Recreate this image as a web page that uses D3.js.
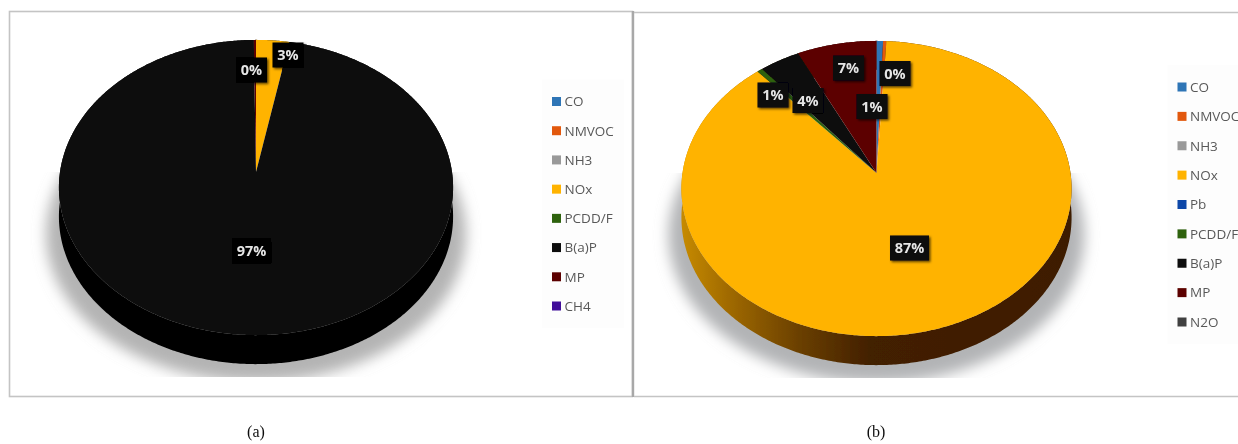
<!DOCTYPE html>
<html>
<head>
<meta charset="utf-8">
<script src="https://cdn.jsdelivr.net/npm/d3@7/dist/d3.min.js"></script>
<style>
  html, body { margin: 0; padding: 0; background: #fff; }
  svg { display: block; }
  .legend text { font-family: "Open Sans", sans-serif; font-size: 13.5px; fill: #595959; }
  .pct text { font-family: "Open Sans", sans-serif; font-size: 14.5px; font-weight: 700; fill: #e6e6e6; text-anchor: middle; }
  .caption { font-family: "Liberation Serif", serif; font-size: 16px; fill: #111; text-anchor: middle; }
</style>
</head>
<body>
<div id="chart"></div>
<script>
// panel (a)
const categoriesA = ['CO', 'NMVOC', 'NH3', 'NOx', 'PCDD/F', 'B(a)P', 'MP', 'CH4'];
const valuesA = [0, 0, 0, 3, 0, 96.8, 0.2, 0];
const labelsA = ['3%', '0%', '97%'];

// panel (b)
const categoriesB = ['CO', 'NMVOC', 'NH3', 'NOx', 'Pb', 'PCDD/F', 'B(a)P', 'MP', 'N2O'];
const valuesB = [0.6, 0.3, 0, 87.6, 0, 0.5, 3.7, 7.3, 0];
const labelsB = ['0%', '1%', '7%', '1%', '4%', '87%'];

const colors = {
  'CO': '#2e75b6',
  'NMVOC': '#e2590f',
  'NH3': '#999999',
  'NOx': '#ffb300',
  'Pb': '#0b47a8',
  'PCDD/F': '#2f6210',
  'B(a)P': '#0d0d0d',
  'MP': '#5c0500',
  'N2O': '#404040',
  'CH4': '#3f0f99',
};

const width = 1238;
const height = 444;

const svg = d3.select('#chart')
  .append('svg')
  .attr('width', width)
  .attr('height', height);

const defs = svg.append('defs');
defs.append('filter').attr('id', 'soft')
  .append('feGaussianBlur').attr('stdDeviation', 0.45);
defs.append('filter').attr('id', 'shadowBlur')
  .attr('x', '-10%').attr('y', '-10%').attr('width', '120%').attr('height', '120%')
  .append('feGaussianBlur').attr('stdDeviation', 7);
const boxShadow = defs.append('filter').attr('id', 'boxShadow')
  .attr('x', '-30%').attr('y', '-30%').attr('width', '160%').attr('height', '160%');
boxShadow.append('feDropShadow')
  .attr('dx', 1.5).attr('dy', 1.5).attr('stdDeviation', 1.2)
  .attr('flood-color', '#000').attr('flood-opacity', 0.65);

const wallGradient = defs.append('linearGradient').attr('id', 'wallB')
  .attr('gradientUnits', 'userSpaceOnUse')
  .attr('x1', 682).attr('x2', 1071).attr('y1', 0).attr('y2', 0);
[[0, '#c68a00'], [0.12, '#a06a00'], [0.3, '#6b4000'], [0.48, '#432000'], [1, '#3e1c00']]
  .forEach(s => wallGradient.append('stop').attr('offset', s[0]).attr('stop-color', s[1]));

const root = svg.append('g').attr('filter', 'url(#soft)');

// panel frames
const frames = root.append('g').attr('fill', 'none');
frames.append('rect').attr('x', 9.5).attr('y', 11.5).attr('width', 623).attr('height', 385)
  .attr('stroke', '#c4c4c4').attr('stroke-width', 1.6);
frames.append('line').attr('x1', 633).attr('x2', 633).attr('y1', 11).attr('y2', 397)
  .attr('stroke', '#a8a8a8').attr('stroke-width', 2.4);
frames.append('path').attr('d', 'M634,12.5H1238M634,396.5H1238')
  .attr('stroke', '#c4c4c4').attr('stroke-width', 1.6);

function drawPanel(p) {
  const g = root.append('g');
  const k = 0.105; // perspective of the tilted disc
  const ry = 146;

  // point on the tilted disc, r in 0..1, angle clockwise from 12 o'clock
  const project = (angle, r) => {
    const u = Math.sin(angle) * r;
    const v = -Math.cos(angle) * r;
    const w = 1 - k * v;
    return [p.cx + p.radius * u / w, p.cy + ry * v / w];
  };

  const sweep = (a0, a1) => {
    const n = Math.max(2, Math.ceil((a1 - a0) / 0.01));
    return d3.range(n + 1).map(i => a0 + (a1 - a0) * i / n);
  };

  const line = d3.line();

  // floor shadow, cut flat at the bottom
  const shadowClip = `shadowClip${p.id}`;
  defs.append('clipPath').attr('id', shadowClip)
    .append('rect').attr('x', p.cx - 260).attr('y', p.cy).attr('width', 520).attr('height', 205);
  g.append('g').attr('clip-path', `url(#${shadowClip})`)
    .append('ellipse')
    .attr('cx', p.cx).attr('cy', p.cy + 62)
    .attr('rx', p.radius + 14).attr('ry', 148)
    .attr('fill', p.shadow)
    .attr('filter', 'url(#shadowBlur)');

  const pie = d3.pie().sort(null).value(d => d.value);
  const slices = pie(p.categories.map((name, i) => ({ name, value: p.values[i] })))
    .filter(d => d.value > 0);

  // side wall, pushed down from the rim
  const depth = 29;
  g.append('g').selectAll('path').data(slices).join('path')
    .attr('d', d => {
      const rim = sweep(d.startAngle, d.endAngle).map(a => project(a, 1));
      const lower = rim.map(q => [q[0], q[1] + depth]).reverse();
      return line(rim.concat(lower)) + 'Z';
    })
    .attr('fill', d => p.wall(d.data.name));

  // top face
  g.append('g').selectAll('path').data(slices).join('path')
    .attr('d', d => {
      const rim = sweep(d.startAngle, d.endAngle).map(a => project(a, 1));
      return line([project(0, 0)].concat(rim)) + 'Z';
    })
    .attr('fill', d => colors[d.data.name]);

  // percent labels
  const pct = g.append('g').attr('class', 'pct');
  const boxes = pct.selectAll('g').data(p.labels.map((text, i) => ({ text, at: p.labelAt[i] })))
    .join('g')
    .attr('transform', d => `translate(${d.at[0]},${d.at[1]})`);
  boxes.append('rect')
    .attr('x', d => d.text.length > 2 ? -19.5 : -15.5)
    .attr('y', -12.5)
    .attr('width', d => d.text.length > 2 ? 39 : 31)
    .attr('height', 25)
    .attr('fill', p.boxFill)
    .attr('filter', 'url(#boxShadow)');
  boxes.append('text').attr('y', 5.2).text(d => d.text);

  // legend
  const rowY = d3.scalePoint().domain(p.categories).range(p.legendRange);
  const legend = g.append('g').attr('class', 'legend');
  legend.append('rect')
    .attr('x', p.legendX - 10).attr('y', p.legendRange[0] - 22)
    .attr('width', 82).attr('height', p.legendRange[1] - p.legendRange[0] + 44)
    .attr('fill', '#fdfdfd');
  const rows = legend.selectAll('g').data(p.categories).join('g')
    .attr('transform', d => `translate(${p.legendX},${rowY(d)})`);
  rows.append('rect')
    .attr('y', -4.5).attr('width', 9).attr('height', 9)
    .attr('fill', d => colors[d]);
  rows.append('text')
    .attr('x', 12.5).attr('y', 4.8)
    .text(d => d);

  root.append('text').attr('class', 'caption')
    .attr('x', p.captionX).attr('y', 437)
    .text(p.caption);
}

drawPanel({
  id: 'A',
  categories: categoriesA,
  values: valuesA,
  labels: labelsA,
  labelAt: [[288, 55], [251.5, 70], [251.5, 251]],
  cx: 256,
  cy: 172,
  radius: 196,
  wall: () => '#000',
  shadow: '#b4b4b4',
  boxFill: '#060606',
  legendX: 552,
  legendRange: [101.5, 306],
  caption: '(a)',
  captionX: 256,
});

drawPanel({
  id: 'B',
  categories: categoriesB,
  values: valuesB,
  labels: labelsB,
  labelAt: [[895, 73.5], [872, 106.5], [848.5, 68], [773, 95], [808, 100.5], [909.5, 248]],
  cx: 876.5,
  cy: 173,
  radius: 194,
  wall: name => (name === 'NOx' ? 'url(#wallB)' : '#2a1200'),
  shadow: '#b2b4b6',
  boxFill: '#07070f',
  legendX: 1177.5,
  legendRange: [87, 322],
  caption: '(b)',
  captionX: 876,
});
</script>
</body>
</html>
